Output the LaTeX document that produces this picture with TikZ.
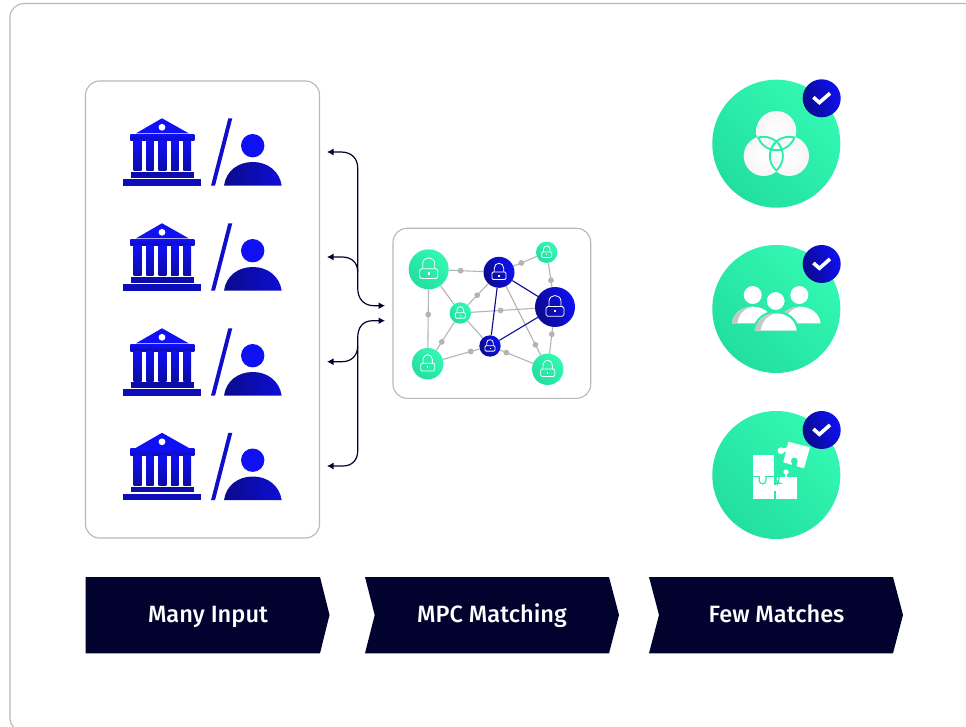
\documentclass[tikz,border=0pt]{standalone}
\usepackage{fontspec}
\setmainfont{Fira Sans Medium}
\usetikzlibrary{arrows.meta,backgrounds}
\definecolor{navy}{HTML}{02022E}
\definecolor{frameg}{HTML}{B8B8B8}
\definecolor{edgeg}{HTML}{B4B4B4}
\definecolor{gr1}{HTML}{22DFA0}
\definecolor{gr2}{HTML}{33F8B2}
\definecolor{grm}{HTML}{2BECA9}
\definecolor{bl1}{HTML}{0A0A8C}
\definecolor{bl2}{HTML}{1010F5}
\tikzset{
  x=1pt,y=-1pt,
  panel/.style={draw=frameg,line width=1.1pt,fill=white,rounded corners=14pt},
  greenball/.style={circle,inner sep=0pt,minimum size=#1,left color=gr1,right color=gr2,shading angle=135},
  darkball/.style={circle,inner sep=0pt,minimum size=#1,left color=bl1,right color=bl2,shading angle=110},
  grayedge/.style={draw=edgeg,line width=1.1pt},
  blueedge/.style={draw=bl1,line width=1.1pt},
  middot/.style={circle,fill=edgeg,inner sep=0pt,minimum size=5.8pt},
  link/.style={draw=navy,line width=1.2pt},
  arrowend/.tip={Latex[length=6.5pt,width=7pt]},
  chev/.style={fill=navy,draw=none},
  chevlabel/.style={text=white,anchor=base,font=\fontsize{23.6}{26}\selectfont},
  lockline/.style={draw=white,line width=0.8pt,fill=none},
  pics/lock/.style={code={
    \begin{scope}[scale=#1]
      \draw[lockline,rounded corners=#1*1.7pt] (-9,-0.5) rectangle (9,9.3);
      \draw[lockline] (-6,-0.5) -- (-6,-5.5) .. controls (-6,-13.5) and (6,-13.5) .. (6,-5.5) -- (6,-0.5);
      \fill[white] (-0.9,3.2) rectangle (0.9,5.4);
    \end{scope}
  }},
  pics/bank/.style={code={
    \fill[bl2] (162,118.3) -- (136,133.3) -- (188.7,133.3) -- cycle;
    \fill[white] (162,127.3) circle[radius=3.4];
    \shade[top color=bl2,bottom color=bl1!60!bl2] (130.3,134.3) rectangle (194.3,141);
    \foreach \xa/\xb in {133.7/141.6,146.4/153.6,158.7/166.3,171/178.6,183.4/191}
      \shade[top color=bl2,bottom color=bl1!75!bl2] (\xa,141) rectangle (\xb,171);
    \fill[bl1!70!bl2] (130.7,172.3) rectangle (194.3,177.7);
    \fill[bl1!55!bl2] (123.3,179.3) rectangle (201,185.7);
    \fill[bl1!40!bl2] (228.3,118.3) -- (232.3,118.3) -- (215,185.7) -- (211,185.7) -- cycle;
    \fill[bl2] (252.7,145.7) circle[radius=11.7];
    \shade[left color=bl1,right color=bl2!70!bl1] (224,185.7) .. controls (226,171) and (238,162) .. (252.8,162) .. controls (267.5,162) and (279.5,171) .. (281.7,185.7) -- cycle;
  }},
  pics/tick/.style={code={
    \draw[white,line width=3.6pt] (-8.3,-1) -- (-2.3,4.3) -- (8.3,-5);
  }},
  pics/torso/.style={code={
    \fill[white] (-20.7,16.6) .. controls (-19.7,6.3) and (-10.7,0) .. (0,0) .. controls (10.3,0) and (19.7,6.3) .. (20.7,16.6) -- cycle;
    \fill[black!22] (-20.7,16.6) .. controls (-19.7,6.3) and (-10.7,0) .. (0,0) .. controls (-8,1.5) and (-14,7) .. (-15.5,16.6) -- cycle;
  }},
}
\begin{document}
\begin{tikzpicture}
\useasboundingbox (0,0) rectangle (966,727);

% balls of the network, so that the edges can name them
\node[greenball=40pt] (A) at (428.7,269.3) {};
\node[darkball=31pt] (B) at (499,272.3) {};
\node[greenball=21.4pt] (C) at (546.7,252.3) {};
\node[darkball=40pt] (D) at (555,307) {};
\node[greenball=21.4pt] (E) at (460.3,313) {};
\node[darkball=21.4pt] (F) at (490,346) {};
\node[greenball=31.4pt] (G) at (427.7,363.7) {};
\node[greenball=31.4pt] (H) at (547.7,369.3) {};
\pic at (A) {lock=1};
\pic at (B) {lock=0.78};
\pic at (C) {lock=0.55};
\pic at (D) {lock=1};
\pic at (E) {lock=0.55};
\pic at (F) {lock=0.55};
\pic at (G) {lock=0.78};
\pic at (H) {lock=0.78};

\begin{pgfonlayer}{background}
  \fill[white] (0,0) rectangle (966,727);
  \draw[frameg,line width=1.1pt,rounded corners=14pt] (967,3.5) -- (10,3.5) -- (10,732) -- (967,732);
  \path[panel] (85.5,81) rectangle (319.5,538);
  \path[panel] (393,228.3) rectangle (590.7,398.3);

  \path[grayedge] (A) -- node[middot,pos=.34] (d1) {} (B);
  \path[grayedge] (B) -- node[middot,pos=.34] (d2) {} (C);
  \path[grayedge] (C) -- node[middot,pos=.72] (d3) {} (D);
  \path[grayedge] (B) -- node[middot,pos=.54] (d4) {} (E);
  \path[grayedge] (E) -- node[middot,pos=.46] (d5) {} (D);
  \path[grayedge] (A) -- node[middot,pos=.43] (d6) {} (G);
  \path[grayedge] (E) -- node[middot,pos=.70] (d7) {} (G);
  \path[grayedge] (G) -- node[middot,pos=.76] (d8) {} (F);
  \path[grayedge] (F) -- node[middot,pos=.19] (d9) {} (H);
  \path[grayedge] (B) -- node[middot,pos=.85] (d10) {} (H);
  \path[grayedge] (D) -- node[middot,pos=.27] (d11) {} (H);
  \path[grayedge] (A) -- (E);
  \path[grayedge] (E) -- (F);
  \path[blueedge] (B) -- (D);
  \path[blueedge] (B) -- (F);
  \path[blueedge] (F) -- (D);
\end{pgfonlayer}

% connectors
\coordinate (t1) at (327,152);
\coordinate (t2) at (327,257);
\coordinate (t3) at (327,361.7);
\coordinate (t4) at (327,466);
\coordinate (inA) at (385,305.7);
\coordinate (inB) at (385,320.7);
\draw[link,arrowend-arrowend] (t1) -- (341,152) .. controls (351,152) and (357.7,158) .. (357.7,168) -- (357.7,288) .. controls (357.7,299) and (364,305.7) .. (374,305.7) -- (inA);
\draw[link,-arrowend] (357.7,272) .. controls (357.7,263) and (352,257) .. (342,257) -- (t2);
\draw[link,-arrowend] (357.7,346) .. controls (357.7,355) and (352,361.7) .. (342,361.7) -- (t3);
\draw[link,arrowend-arrowend] (t4) -- (343,466) .. controls (352,466) and (357.7,460) .. (357.7,451) -- (357.7,338) .. controls (357.7,327) and (363,320.7) .. (373,320.7) -- (inB);

% institution / person rows
\pic at (0,0) {bank};
\pic at (0,105) {bank};
\pic at (0,210) {bank};
\pic at (0,314.5) {bank};

% result discs
\node[greenball=128pt] (R1) at (776.3,143.7) {};
\node[greenball=128pt] (R2) at (776.3,309) {};
\node[greenball=128pt] (R3) at (776.3,475) {};
\node[darkball=38pt] (B1) at (821.7,98.3) {};
\node[darkball=38pt] (B2) at (821.7,264) {};
\node[darkball=38pt] (B3) at (821.7,430) {};
\pic at (B1) {tick};
\pic at (B2) {tick};
\pic at (B3) {tick};

% Venn
\foreach \p in {(776.3,131),(763.7,156),(789,156)}
  \shade[inner color=white,outer color=white!93!gray] \p circle[radius=20];
\foreach \a/\b in {{(776.3,131)}/{(763.7,156)},{(776.3,131)}/{(789,156)},{(763.7,156)}/{(776.3,131)},{(763.7,156)}/{(789,156)},{(789,156)}/{(776.3,131)},{(789,156)}/{(763.7,156)}}{
  \begin{scope}
    \clip \b circle[radius=20];
    \draw[grm,line width=1.8pt] \a circle[radius=19.2];
  \end{scope}
}

% People
\fill[white] (752.7,295) circle[radius=9];
\fill[white] (799.3,295) circle[radius=9];
\pic at (752.7,306.7) {torso};
\pic at (799.9,306.7) {torso};
\begin{scope}
  \clip (740,300) rectangle (812,330.7);
  \draw[grm,line width=2.4pt] (753.5,332) .. controls (755,319) and (765,312) .. (776,312) .. controls (787,312) and (797,319) .. (798.5,332);
\end{scope}
\pic[yscale=1.05] at (776,313.3) {torso};
\draw[grm,line width=2pt,fill=white] (775.7,301) circle[radius=10];

% Puzzle
\fill[white] (753.3,455) rectangle (774,475.7);
\fill[white] (753.3,477.3) rectangle (774,498.7);
\fill[white] (775.7,477.3) rectangle (796.7,498.7);
\fill[white] (785,472) rectangle (787,478);
\fill[white] (786,472) circle[radius=2.6];
\draw[grm,line width=1.2pt] (759.2,476.5) -- (759.2,480.5) arc[start angle=180,end angle=0,radius=3.4] -- (766,476.5);
\fill[white] (760.3,475) rectangle (764.9,478);
\draw[grm,line width=1.2pt] (775,483.3) -- (780,483.3) arc[start angle=-90,end angle=90,radius=-4.2] -- (775,491.7);
\fill[white] (774,484.5) rectangle (777,490.5);
\fill[white] (788.3,441.7) -- (810,447.3) -- (804,468.3) -- (783.3,462.3) -- cycle;
\fill[white] (781,450.7) circle[radius=3.4];
\fill[white] (780,449.5) -- (788,447) -- (787,451.5) -- (781,452.5) -- cycle;
\fill[grm] (794.3,461) circle[radius=3.4];
\fill[grm] (792,461) -- (797,461) -- (796.5,467) -- (792,466) -- cycle;

% Bottom band
\fill[chev] (85.5,577) -- (320,577) -- (329.5,615) -- (320,653.3) -- (85.5,653.3) -- cycle;
\fill[chev] (365,577) -- (609,577) -- (619,615) -- (609,653.3) -- (365,653.3) -- (374.7,615) -- cycle;
\fill[chev] (649,577) -- (893,577) -- (903,615) -- (893,653.3) -- (649,653.3) -- (659,615) -- cycle;
\node[chevlabel] (L1) at (208,622.3) {Many Input};
\node[chevlabel] (L2) at (492,622.3) {MPC Matching};
\node[chevlabel] (L3) at (776.5,622.3) {Few Matches};
\end{tikzpicture}
\end{document}
